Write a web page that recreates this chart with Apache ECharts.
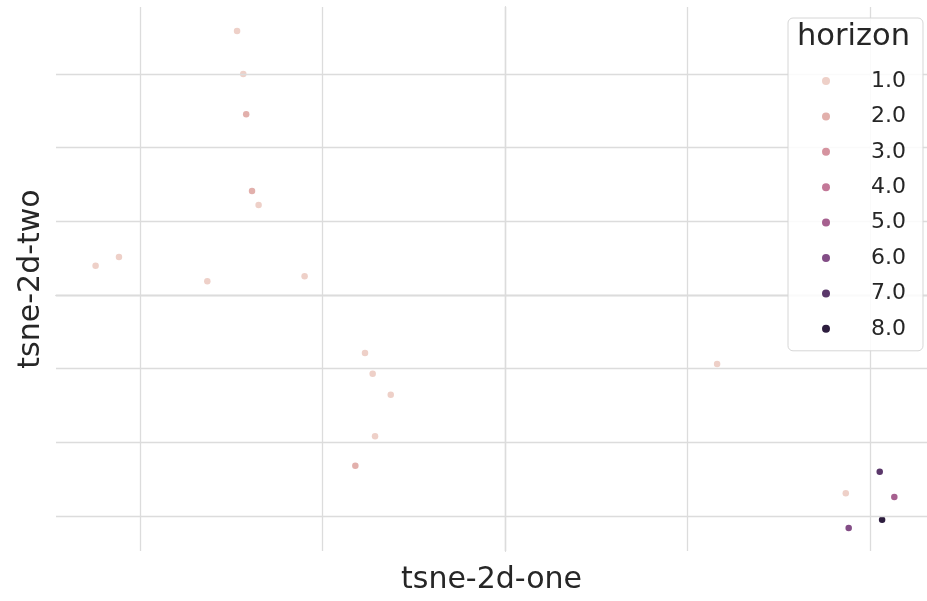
<!DOCTYPE html>
<html>
<head>
<meta charset="utf-8">
<script src="https://cdn.jsdelivr.net/npm/echarts@6/dist/echarts.min.js"></script>
<style>html,body{margin:0;padding:0;background:#fff;}#c{width:927px;height:601px;}</style>
</head>
<body>
<div id="c"></div>
<script>
// horizon levels
const horizonLevels = ['1.0','2.0','3.0','4.0','5.0','6.0','7.0','8.0'];
const horizonColors = ['#eed0c8','#e2b0ac','#d5939f','#c37898','#a6608f','#834d86','#5a376a','#2d1d3e'];
// points: tsne-2d-one, tsne-2d-two, horizon
const tsneOne = [-14.68,-14.34,-14.18,-13.86,-13.50,-22.43,-21.15,-16.31,-10.98,-7.67,-7.25,-6.26,-7.12,-8.20,11.62,20.53,18.67,21.33,20.66,18.83];
const tsneTwo = [35.82,29.99,24.52,14.11,12.21,3.98,5.16,1.86,2.54,-7.87,-10.68,-13.53,-19.17,-23.18,-9.36,-23.98,-26.91,-27.41,-30.49,-31.61];
const horizon = [1,1,2,2,1,1,1,1,1,1,1,1,1,2,1,7,1,5,8,6];
// grid (tick) values, labels hidden as in the reference
const xGridValues = [-20,-10,0,10,20];
const yGridValues = [-30,-20,-10,0,10,20,30];

const FONT = 'DejaVu Sans';
const series = horizonLevels.map((lvl, i) => ({
  name: lvl,
  type: 'scatter',
  z: 3,
  symbolSize: 6.5,
  itemStyle: {color: horizonColors[i], opacity: 1},
  data: tsneOne.map((x, k) => [x, tsneTwo[k], horizon[k]]).filter(p => p[2] === i + 1).map(p => [p[0], p[1]])
}));
series.push({
  name: 'grid',
  type: 'scatter',
  z: 1,
  data: [],
  silent: true,
  markLine: {
    silent: true,
    symbol: 'none',
    animation: false,
    label: {show: false},
    lineStyle: {color: '#dcdcdc', width: 1.3, type: 'solid'},
    emphasis: {disabled: true},
    data: xGridValues.map(v => ({xAxis: v})).concat(yGridValues.map(v => ({yAxis: v})))
  }
});

const chart = echarts.init(document.getElementById('c'), null, {renderer: 'canvas'});
chart.setOption({
  animation: false,
  backgroundColor: '#ffffff',
  textStyle: {fontFamily: FONT},
  grid: {left: 56, top: 7, right: 0, bottom: 50, containLabel: false},
  title: {
    text: 'horizon',
    left: 797, top: 22,
    padding: 0,
    textStyle: {fontFamily: FONT, fontSize: 30.5, fontWeight: 'normal', color: '#262626'},
    z: 10
  },
  legend: {
    data: horizonLevels,
    orient: 'vertical',
    left: 788, top: 18,
    padding: [52, 17, 11, 34],
    icon: 'circle',
    itemWidth: 8, itemHeight: 8,
    itemGap: 13.4,
    backgroundColor: 'rgba(255,255,255,0.85)',
    borderColor: '#d6d6d6', borderWidth: 1, borderRadius: 5,
    textStyle: {fontFamily: FONT, fontSize: 22, color: '#262626', lineHeight: 20, padding: [0,0,0,36]},
    selectedMode: false,
    z: 10
  },
  xAxis: {
    type: 'value',
    min: -24.6, max: 23.12,
    name: 'tsne-2d-one',
    nameLocation: 'middle',
    nameGap: 14,
    nameTextStyle: {fontFamily: FONT, fontSize: 30, color: '#262626', verticalAlign: 'top'},
    axisLine: {show: true, lineStyle: {color: '#cccccc', width: 1.3}},
    axisTick: {show: false},
    axisLabel: {show: false},
    splitLine: {show: false}
  },
  yAxis: {
    type: 'value',
    min: -34.74, max: 39.08,
    name: 'tsne-2d-two',
    nameLocation: 'middle',
    nameGap: 10,
    nameTextStyle: {fontFamily: FONT, fontSize: 30, color: '#262626'},
    axisLine: {show: true, lineStyle: {color: '#cccccc', width: 1.3}},
    axisTick: {show: false},
    axisLabel: {show: false},
    splitLine: {show: false}
  },
  series: series
});
</script>
</body>
</html>
